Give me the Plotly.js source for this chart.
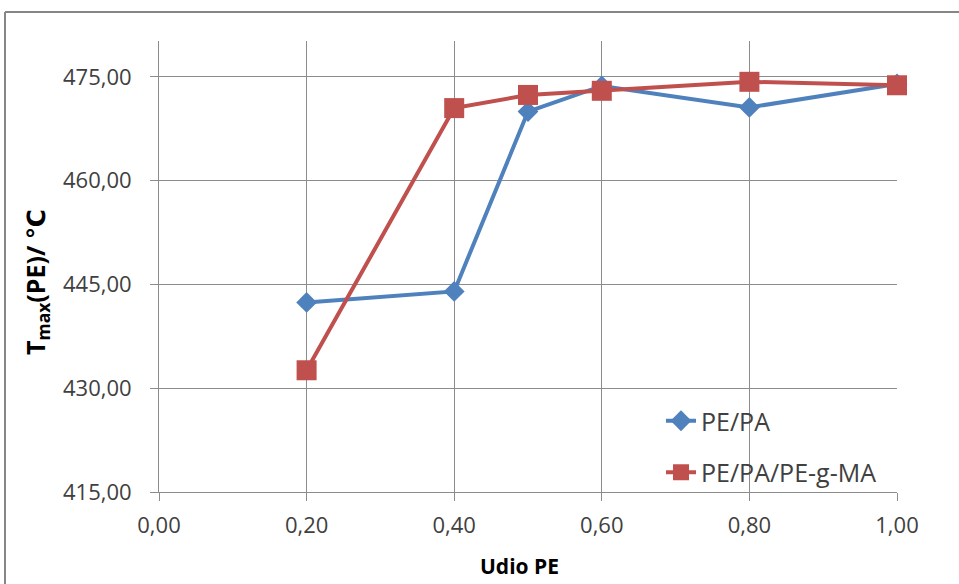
<!DOCTYPE html>
<html>
<head>
<meta charset="utf-8">
<script src="https://cdn.plot.ly/plotly-3.0.1.min.js"></script>
<style>html,body{margin:0;padding:0;background:#fff;}#chart{width:959px;height:584px;}</style>
</head>
<body>
<div id="chart"></div>
<script>
const udioPE = [0.2, 0.4, 0.5, 0.6, 0.8, 1.0];
const pePA = [442.4, 444.0, 470.0, 473.7, 470.6, 474.0];
const pePAgMA = [432.6, 470.5, 472.4, 473.0, 474.3, 473.8];
const seriesNames = ['PE/PA', 'PE/PA/PE-g-MA'];
const xTicks = [0, 0.2, 0.4, 0.6, 0.8, 1.0];
const xTickText = ['0,00', '0,20', '0,40', '0,60', '0,80', '1,00'];
const yTicks = [415, 430, 445, 460, 475];
const yTickText = ['415,00', '430,00', '445,00', '460,00', '475,00'];

const W = 959, H = 584, L = 159, R = 62, T = 41, B = 92;
const pw = W - L - R, ph = H - T - B;
const px = x => (x - L) / pw;
const py = y => (H - B - y) / ph;

const FONT = '"Open Sans", "DejaVu Sans", sans-serif';
const grid = '#8c8c8c';

const traces = [
  {x: udioPE, y: pePA, name: seriesNames[0], legendgroup: 'a', mode: 'lines+markers', cliponaxis: false,
   line: {color: '#4F81BD', width: 4}, marker: {symbol: 'diamond', size: 16, color: '#4F81BD'}},
  {x: udioPE, y: pePAgMA, name: seriesNames[1], legendgroup: 'b', mode: 'lines+markers', cliponaxis: false,
   line: {color: '#C0504D', width: 4}, marker: {symbol: 'square', size: 20, color: '#C0504D'}}
];

const layout = {
  width: W, height: H,
  margin: {l: L, r: R, t: T, b: B, pad: 0},
  paper_bgcolor: '#fff', plot_bgcolor: '#fff',
  separators: ',.',
  font: {family: FONT, color: '#404040', size: 22},
  showlegend: true,
  legend: {x: px(661), y: py(398), xanchor: 'left', yanchor: 'top', bgcolor: 'rgba(0,0,0,0)',
           font: {size: 25, color: '#404040', family: FONT}, traceorder: 'grouped', tracegroupgap: 16},
  xaxis: {range: [0, 1], tickvals: xTicks, ticktext: xTickText, showgrid: true, gridcolor: grid, gridwidth: 1,
          showline: true, linecolor: grid, linewidth: 1, ticks: 'outside', ticklen: 8, tickcolor: grid,
          zeroline: false, ticklabelstandoff: 6, tickfont: {size: 22, color: '#404040'}},
  yaxis: {range: [415, 480.2], tickvals: yTicks, ticktext: yTickText, showgrid: true, gridcolor: grid, gridwidth: 1,
          showline: true, linecolor: grid, linewidth: 1, ticks: 'outside', ticklen: 8, tickcolor: grid,
          zeroline: false, ticklabelstandoff: 14, tickfont: {size: 22, color: '#404040'}},
  annotations: [
    {text: '<b>Udio PE</b>', xref: 'paper', yref: 'paper', x: px(519), y: py(566), xanchor: 'center', yanchor: 'middle',
     showarrow: false, font: {size: 21, color: '#000', family: FONT}},
    {text: '<b>T<sub>max</sub>(PE)/ ℃</b>', xref: 'paper', yref: 'paper', x: px(36), y: py(282), xanchor: 'center', yanchor: 'middle',
     textangle: -90, showarrow: false, font: {size: 25, color: '#000', family: FONT}}
  ],
  shapes: [
    {type: 'line', xref: 'paper', yref: 'paper', x0: px(5), x1: px(959), y0: py(12), y1: py(12), line: {color: '#868686', width: 2}},
    {type: 'line', xref: 'paper', yref: 'paper', x0: px(5), x1: px(5), y0: py(12), y1: py(584), line: {color: '#868686', width: 2}}
  ]
};

Plotly.newPlot('chart', traces, layout, {displayModeBar: false, staticPlot: true});
</script>
</body>
</html>
